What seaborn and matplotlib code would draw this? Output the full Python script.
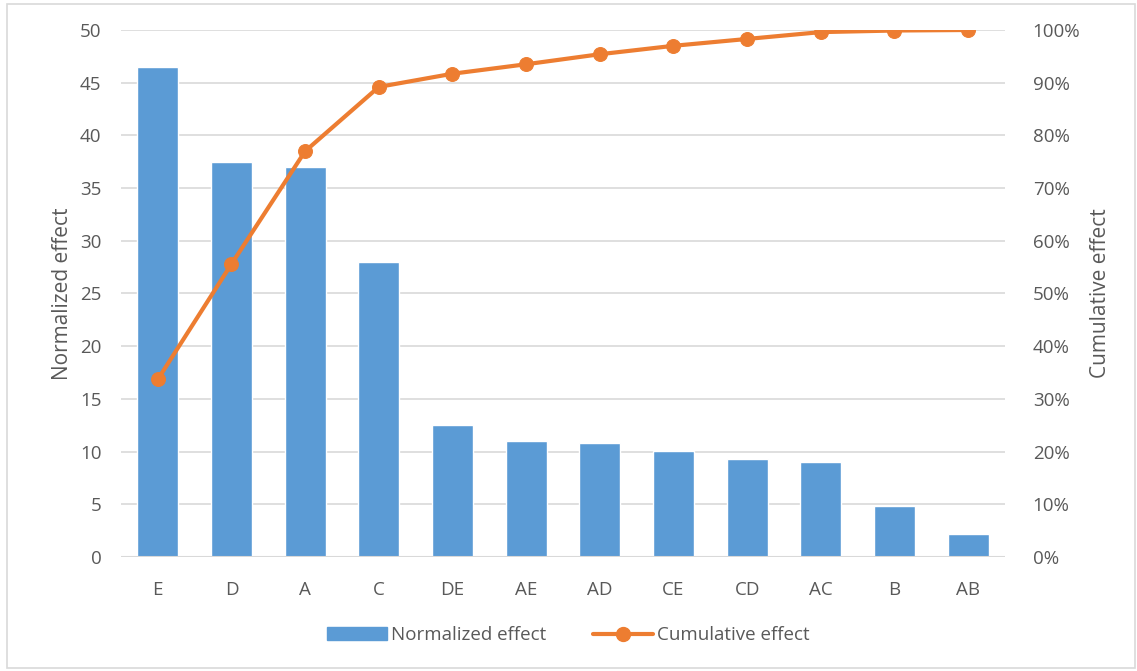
import matplotlib
matplotlib.use("Agg")
import matplotlib.pyplot as plt
import matplotlib.patches as mpatches
from matplotlib.lines import Line2D
from matplotlib.ticker import FuncFormatter
import pandas as pd
import seaborn as sns

factors = ["E", "D", "A", "C", "DE", "AE", "AD", "CE", "CD", "AC", "B", "AB"]
normalized = [46.5, 37.5, 37.0, 28.0, 12.5, 11.0, 10.8, 10.1, 9.3, 9.0, 4.8, 2.2]
cumulative = [33.7, 55.6, 77.0, 89.2, 91.7, 93.5, 95.4, 97.0, 98.3, 99.6, 99.9, 100.0]

blue = "#5b9bd5"
orange = "#ed7d31"
grey_text = "#595959"
grid_col = "#d9d9d9"

sns.set_style("white")
plt.rcParams["font.family"] = ["Open Sans", "DejaVu Sans"]

df = pd.DataFrame({"Factor": factors, "Normalized": normalized, "Cumulative": cumulative})

fig = plt.figure(figsize=(11.37, 6.71), dpi=100)
ax = fig.add_axes([0.1064, 0.1699, 0.7775, 0.7854])

sns.barplot(data=df, x="Factor", y="Normalized", color=blue, width=0.56,
            saturation=1, ax=ax, zorder=2)
ax.set_ylim(0, 50)
ax.set_yticks(range(0, 51, 5))
ax.set_xlim(-0.5, len(factors) - 0.5)
ax.yaxis.grid(True, color=grid_col, linewidth=1.2, zorder=0)
ax.set_axisbelow(True)
for s in ax.spines.values():
    s.set_visible(False)
ax.axhline(0, color=grid_col, linewidth=1.5, zorder=3)
ax.set_xlabel("")
ax.set_ylabel("Normalized effect", fontsize=15, color=grey_text, labelpad=5)
ax.tick_params(axis="both", length=0, labelsize=13.5, colors=grey_text, pad=14)
ax.tick_params(axis="x", pad=17)

ax2 = ax.twinx()
sns.lineplot(data=df, x="Factor", y="Cumulative", color=orange, linewidth=3,
             marker="o", markersize=10, markeredgecolor=orange, ax=ax2,
             sort=False, zorder=4)
ax2.set_ylim(0, 100)
ax2.set_yticks(range(0, 101, 10))
ax2.yaxis.set_major_formatter(FuncFormatter(lambda v, p: f"{int(v)}%"))
for s in ax2.spines.values():
    s.set_visible(False)
ax2.set_xlabel("")
ax2.set_ylabel("Cumulative effect", fontsize=15, color=grey_text, labelpad=7)
ax2.tick_params(axis="y", length=0, labelsize=13.5, colors=grey_text, pad=20)

handles = [
    mpatches.Patch(color=blue, label="Normalized effect"),
    Line2D([0], [0], color=orange, linewidth=3, marker="o", markersize=10,
           label="Cumulative effect"),
]
fig.legend(handles=handles, loc="center", bbox_to_anchor=(0.5, 0.053), ncol=2,
           frameon=False, fontsize=13.5, labelcolor=grey_text, handlelength=3.2,
           handletextpad=0.2, columnspacing=2.5)

fig.patches.append(mpatches.Rectangle((0.006, 0.004), 0.992, 0.99, fill=False,
                                      edgecolor=grid_col, linewidth=1.2,
                                      transform=fig.transFigure, figure=fig))

fig.savefig("out.png", dpi=100)
